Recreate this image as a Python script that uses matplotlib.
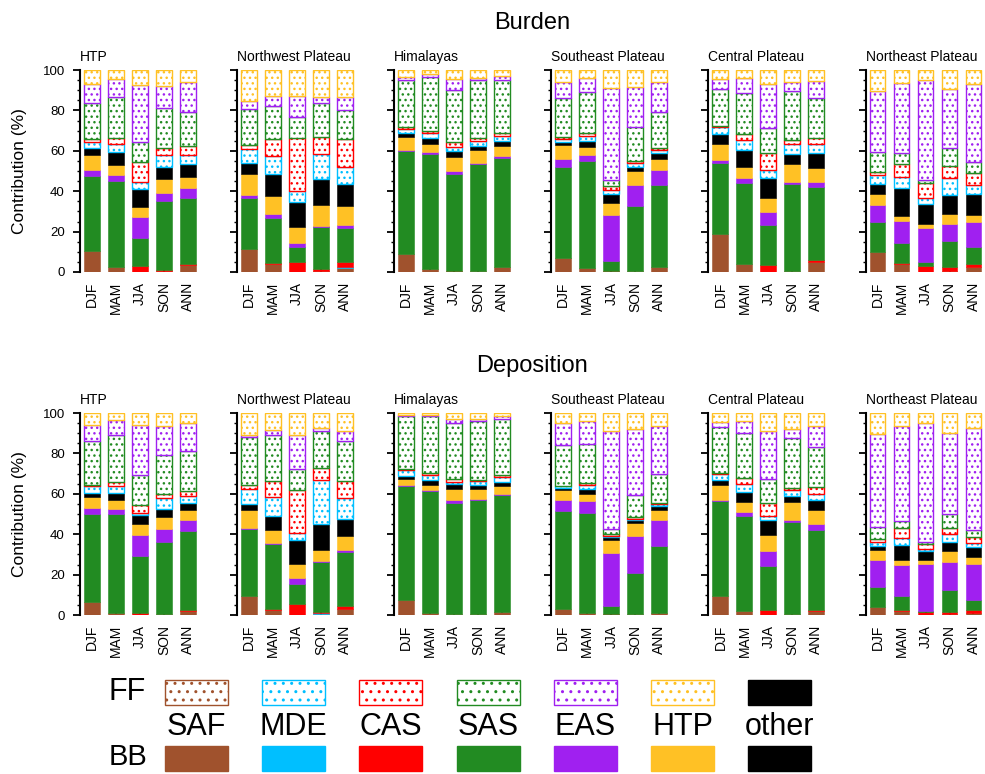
import matplotlib
matplotlib.use("Agg")
import matplotlib.pyplot as plt
from matplotlib.patches import Rectangle

plt.rcParams['font.family'] = ['Liberation Sans', 'DejaVu Sans']
plt.rcParams['hatch.linewidth'] = 1.0

seasons = ["DJF", "MAM", "JJA", "SON", "ANN"]
regions = ["HTP", "Northwest Plateau", "Himalayas", "Southeast Plateau",
           "Central Plateau", "Northeast Plateau"]
sources = ["SAF", "MDE", "CAS", "SAS", "EAS", "HTP", "other"]
source_colors = {
    "SAF": "#A0522D", "MDE": "#00BFFF", "CAS": "#FF0000", "SAS": "#228B22",
    "EAS": "#A020F0", "HTP": "#FFC125", "other": "#000000",
}

# stacking order (bottom to top) of the columns in every table below
layers = [("BB", "SAF"), ("BB", "MDE"), ("BB", "CAS"), ("BB", "SAS"),
          ("BB", "EAS"), ("BB", "HTP"), ("BB", "other"),
          ("FF", "MDE"), ("FF", "CAS"), ("FF", "SAS"), ("FF", "EAS"), ("FF", "HTP")]

# ---- Burden contributions (%) : rows = seasons, columns = layers ----
burden_htp = [
    [10.5, 0, 0, 37.0, 3.0, 7.5, 3.3, 3.3, 1.0, 18.0, 9.6, 6.8],
    [2.6, 0, 0, 42.6, 2.8, 5.0, 6.6, 3.6, 3.0, 20.3, 8.9, 4.6],
    [0, 0, 2.8, 14.2, 10.0, 5.0, 9.0, 3.4, 10.2, 9.6, 28.4, 7.4],
    [0.7, 0, 0.5, 34.1, 3.7, 7.0, 6.1, 5.8, 3.3, 19.8, 11.2, 7.8],
    [3.3, 0, 0.5, 32.7, 4.9, 5.6, 6.6, 4.3, 4.5, 17.0, 14.5, 6.1],
]
burden_nw = [
    [11.6, 0, 0, 24.9, 1.6, 10.4, 5.6, 6.8, 2.0, 17.6, 4.3, 15.2],
    [4.0, 0, 0.5, 22.4, 1.8, 8.8, 10.8, 9.1, 8.4, 16.2, 5.3, 12.7],
    [0, 0, 5.1, 7.4, 1.7, 8.2, 12.4, 5.3, 26.4, 10.1, 10.7, 12.7],
    [0.7, 0, 1.0, 20.4, 0.8, 10.3, 12.7, 12.4, 8.7, 16.5, 3.0, 13.5],
    [2.1, 0.5, 2.5, 16.5, 1.7, 9.4, 11.0, 8.4, 13.7, 14.4, 6.3, 13.5],
]
burden_him = [
    [8.9, 0, 0, 51.0, 0.5, 6.6, 2.0, 1.8, 0.8, 23.4, 1.7, 3.3],
    [1.3, 0, 0, 57.3, 0.6, 4.2, 3.1, 2.5, 0.8, 26.9, 1.2, 2.1],
    [0, 0, 0.7, 47.6, 1.9, 6.6, 3.1, 1.8, 2.8, 25.6, 5.4, 4.5],
    [0.3, 0, 0, 53.0, 0.7, 6.2, 2.3, 2.4, 1.3, 28.8, 1.2, 3.8],
    [2.5, 0, 0, 54.1, 0.8, 5.0, 2.5, 2.4, 1.3, 26.4, 2.0, 3.0],
]
burden_se = [
    [7.1, 0, 0, 45.0, 3.8, 7.0, 1.3, 1.6, 0.9, 19.3, 7.9, 6.1],
    [1.8, 0, 0, 53.2, 2.9, 3.8, 3.3, 2.3, 1.3, 20.7, 6.6, 4.1],
    [0, 0, 0.7, 4.9, 22.6, 6.1, 4.1, 2.2, 2.1, 2.8, 45.8, 8.7],
    [0.3, 0, 0, 32.4, 10.4, 6.9, 2.1, 2.0, 1.0, 16.8, 19.8, 8.3],
    [2.6, 0, 0, 40.5, 7.4, 5.4, 2.8, 1.7, 1.2, 17.4, 14.9, 6.1],
]
burden_cp = [
    [18.6, 0, 0, 35.2, 1.6, 8.0, 4.8, 3.7, 0.3, 18.4, 4.8, 4.6],
    [4.1, 0, 0, 40.1, 2.2, 5.4, 8.4, 5.1, 2.9, 20.2, 7.5, 4.1],
    [0, 0, 3.5, 19.8, 6.6, 6.9, 9.6, 4.1, 8.6, 12.0, 21.8, 7.1],
    [0.7, 0, 0, 42.9, 1.1, 8.6, 5.0, 5.1, 1.9, 24.3, 4.6, 5.8],
    [5.1, 0, 0.8, 36.3, 2.5, 7.0, 7.0, 4.7, 3.1, 19.5, 8.7, 5.3],
]
burden_ne = [
    [9.9, 0, 0, 15.0, 8.3, 5.2, 5.2, 4.4, 1.7, 9.5, 30.4, 10.4],
    [3.8, 0, 0.5, 9.9, 11.2, 2.5, 13.8, 5.5, 6.1, 5.4, 35.0, 6.3],
    [0, 0, 3.0, 1.8, 17.1, 1.9, 9.9, 3.1, 7.1, 1.6, 49.5, 5.0],
    [0.7, 0, 1.6, 13.2, 8.3, 4.9, 9.4, 8.3, 6.1, 9.1, 29.0, 9.4],
    [2.5, 0, 1.6, 8.4, 12.4, 3.3, 10.2, 4.7, 5.7, 5.5, 38.6, 7.1],
]

# ---- Deposition contributions (%) ----
deposition_htp = [
    [6.4, 0, 0, 43.4, 3.2, 5.4, 2.0, 3.3, 0.8, 21.5, 8.2, 5.8],
    [1.0, 0, 0, 48.8, 2.8, 4.2, 3.6, 3.3, 2.1, 23.5, 7.4, 3.3],
    [0, 0, 1.2, 28.0, 10.2, 5.8, 4.1, 1.2, 4.1, 14.9, 24.7, 5.8],
    [0.5, 0, 0, 35.6, 6.3, 6.1, 4.1, 5.5, 2.0, 19.3, 14.2, 6.4],
    [2.0, 0, 0.3, 39.3, 5.6, 4.9, 3.3, 3.3, 2.7, 19.8, 13.8, 5.0],
]
deposition_nw = [
    [9.4, 0, 0, 33.3, 0.5, 8.6, 3.3, 7.4, 2.0, 23.6, 1.2, 10.7],
    [2.3, 0, 0.5, 32.2, 0.6, 6.6, 6.8, 9.4, 7.8, 22.7, 2.8, 8.3],
    [0, 0, 5.6, 9.9, 3.0, 6.9, 11.6, 3.8, 21.2, 10.1, 17.2, 10.7],
    [0.5, 0.5, 0.5, 24.7, 0.5, 5.6, 12.6, 22.1, 5.8, 18.3, 1.5, 7.4],
    [3.1, 0, 1.4, 26.7, 0.8, 7.1, 8.3, 10.7, 8.2, 19.8, 5.0, 8.9],
]
deposition_him = [
    [7.3, 0, 0, 56.6, 0.3, 3.0, 1.4, 3.3, 0.3, 26.3, 0.6, 0.9],
    [0.8, 0, 0, 60.4, 0.5, 2.5, 2.5, 2.8, 0.8, 28.0, 0.5, 1.2],
    [0.3, 0, 0, 55.3, 1.2, 5.7, 2.2, 1.1, 1.7, 27.5, 1.9, 3.1],
    [0.5, 0, 0, 56.3, 0.8, 4.9, 1.7, 2.1, 0.7, 29.0, 0.9, 3.1],
    [1.7, 0, 0, 57.5, 0.5, 4.2, 1.9, 2.5, 0.8, 28.1, 1.1, 1.7],
]
deposition_se = [
    [3.1, 0, 0, 48.4, 5.6, 4.9, 0.9, 1.0, 0, 20.1, 11.0, 5.0],
    [1.0, 0, 0, 49.5, 5.8, 3.8, 2.4, 2.0, 0.8, 19.5, 11.1, 4.1],
    [0, 0, 0.7, 3.9, 26.1, 6.3, 1.6, 0.5, 1.2, 2.4, 48.4, 8.9],
    [0.5, 0, 0, 20.5, 18.1, 6.6, 1.2, 0.8, 0.8, 10.7, 32.7, 8.1],
    [1.0, 0, 0, 33.2, 13.0, 4.9, 1.9, 0.8, 0.8, 14.4, 23.6, 6.4],
]
deposition_cp = [
    [9.4, 0, 0, 47.0, 0.7, 7.4, 2.2, 3.3, 0.5, 22.6, 2.4, 4.5],
    [2.0, 0, 0, 47.0, 2.0, 4.9, 5.0, 4.1, 2.8, 22.3, 5.8, 4.1],
    [0, 0, 2.6, 21.5, 7.4, 8.3, 7.1, 2.1, 6.6, 11.9, 23.6, 8.9],
    [0.5, 0, 0, 45.5, 0.9, 9.0, 3.0, 2.8, 1.2, 24.9, 4.4, 7.8],
    [1.8, 0, 0.8, 39.3, 3.0, 6.9, 5.0, 3.3, 3.3, 19.8, 10.4, 6.4],
]
deposition_ne = [
    [4.0, 0, 0, 9.9, 13.2, 4.9, 2.0, 2.1, 1.4, 6.1, 45.8, 10.6],
    [1.8, 0, 0.5, 6.9, 15.4, 2.5, 7.4, 3.6, 5.1, 3.3, 47.1, 6.4],
    [0, 0, 1.7, 0.4, 23.0, 2.0, 4.6, 1.1, 2.5, 0.8, 58.9, 5.0],
    [0.5, 0, 1.0, 11.0, 13.7, 5.3, 4.6, 4.2, 2.8, 7.1, 39.9, 9.9],
    [1.0, 0, 1.3, 5.0, 18.1, 3.3, 5.0, 2.1, 2.8, 3.3, 50.8, 7.3],
]

rows = [
    ("Burden", [burden_htp, burden_nw, burden_him, burden_se, burden_cp, burden_ne]),
    ("Deposition", [deposition_htp, deposition_nw, deposition_him,
                    deposition_se, deposition_cp, deposition_ne]),
]

W, H = 985, 774
fig = plt.figure(figsize=(W / 100, H / 100), dpi=100)

# panel geometry in pixels
panel_x0 = 80.0
panel_dx = 157.1
panel_w = 120.0
row_top = [70, 413]
row_h = 202
bar_w = 0.66


def draw_panel(ax, table):
    n = len(seasons)
    bottoms = [0.0] * n
    for j, (kind, src) in enumerate(layers):
        col = source_colors[src]
        for i in range(n):
            v = table[i][j]
            if v <= 0:
                continue
            if kind == "FF":
                ax.bar(i, v, bottom=bottoms[i], width=bar_w, facecolor="white",
                       edgecolor=col, hatch="...", linewidth=1.0, zorder=2)
            else:
                ax.bar(i, v, bottom=bottoms[i], width=bar_w, facecolor=col,
                       edgecolor=col, linewidth=0.4, zorder=2)
            bottoms[i] += v


for r, (row_title, tables) in enumerate(rows):
    top = row_top[r]
    for p, table in enumerate(tables):
        left = panel_x0 + panel_dx * p
        ax = fig.add_axes([left / W, (H - top - row_h) / H, panel_w / W, row_h / H])
        draw_panel(ax, table)
        ax.set_xlim(-0.5, 4.5)
        ax.set_ylim(0, 100)
        for s in ("top", "right", "bottom"):
            ax.spines[s].set_visible(False)
        ax.spines["left"].set_linewidth(1.5)
        ax.set_yticks(range(0, 101, 20))
        ax.set_yticks(range(0, 101, 5), minor=True)
        ax.tick_params(axis="y", which="major", direction="out", length=5,
                       width=1.3, labelsize=9.5, pad=6, labelleft=(p == 0))
        ax.tick_params(axis="y", which="minor", direction="out", length=2.5, width=1.0)
        ax.set_xticks(range(len(seasons)))
        ax.set_xticklabels(seasons, rotation=90)
        ax.tick_params(axis="x", direction="in", length=2.5, width=1.5,
                       labelsize=10, pad=7)
        ax.text(0.0, 1.03, regions[p], transform=ax.transAxes, ha="left",
                va="bottom", fontsize=10)
    fig.text(532 / W, 1 - (top - 47) / H, row_title, ha="center", va="center",
             fontsize=17)
    fig.text(20 / W, 1 - (top + row_h / 2) / H, "Contribution (%)", rotation=90,
             ha="center", va="center", fontsize=12.5)

# legend: FF row (dotted), source names, BB row (solid)
lax = fig.add_axes([0, 0, 1, 1])
lax.set_xlim(0, W)
lax.set_ylim(H, 0)
lax.axis("off")
box_x0, box_dx, box_w = 165, 97.2, 63
ff_y, bb_y, box_h = 680, 746, 25
for k, src in enumerate(sources):
    x = box_x0 + k * box_dx
    col = source_colors[src]
    if src == "other":
        lax.add_patch(Rectangle((x, ff_y), box_w, box_h, facecolor=col, edgecolor=col))
    else:
        lax.add_patch(Rectangle((x, ff_y), box_w, box_h, facecolor="white",
                                edgecolor=col, hatch="..", linewidth=1.0))
    lax.add_patch(Rectangle((x, bb_y), box_w, box_h, facecolor=col, edgecolor=col))
    lax.text(x + box_w / 2, 727, src, ha="center", va="center", fontsize=22)
lax.text(127, 692, "FF", ha="center", va="center", fontsize=22)
lax.text(128, 757, "BB", ha="center", va="center", fontsize=21)

fig.savefig("out.png", dpi=100)
